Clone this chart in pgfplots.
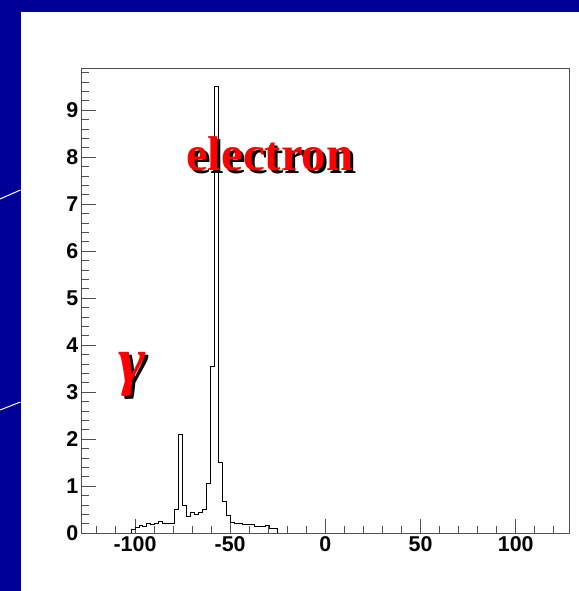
\documentclass[border=0pt]{standalone}
\usepackage{pgfplots}
\pgfplotsset{compat=1.18}
\usepackage{fontspec}
\setmainfont{Liberation Serif}
\setsansfont{Liberation Sans}
\definecolor{bgblue}{RGB}{0,0,153}
\definecolor{framegray}{RGB}{80,80,80}
\begin{document}
\begin{tikzpicture}[x=1bp,y=1bp]
\useasboundingbox (0,0) rectangle (579,591);
\fill[bgblue] (0,0) rectangle (579,591);
\fill[white] (20.5,0) rectangle (579,579);
\draw[white, line width=1bp] (0,392) -- (20.5,401);
\draw[white, line width=1bp] (0,181) -- (20.5,189);
\begin{axis}[
  at={(81.7bp,57.7bp)}, anchor=south west,
  scale only axis, width=487.3bp, height=464.3bp,
  xmin=-128, xmax=128, ymin=0, ymax=9.88,
  axis line style={framegray, line width=1bp},
  tick style={framegray, line width=1bp},
  major tick length=14bp, minor tick length=7bp,
  xtick pos=bottom, ytick pos=left, tick align=inside,
  xtick={-100,-50,0,50,100}, xticklabels={-100,-50,0,50,100},
  minor xtick={-120,-110,-90,-80,-70,-60,-40,-30,-20,-10,10,20,30,40,60,70,80,90,110,120},
  ytick={0,1,2,3,4,5,6,7,8,9}, yticklabels={0,1,2,3,4,5,6,7,8,9},
  minor ytick={0.2,0.4,0.6,0.8,1.2,1.4,1.6,1.8,2.2,2.4,2.6,2.8,3.2,3.4,3.6,3.8,4.2,4.4,4.6,4.8,5.2,5.4,5.6,5.8,6.2,6.4,6.6,6.8,7.2,7.4,7.6,7.8,8.2,8.4,8.6,8.8,9.2,9.4,9.6,9.8},
  ticklabel style={font=\sffamily\bfseries\fontsize{21.5}{21.5}\selectfont},
]
\addplot[const plot mark left, black, line width=0.9bp] coordinates {
(-102.083,0) (-102.083,0.08) (-100.000,0.12) (-97.917,0.16) (-95.833,0.15)
(-93.750,0.21) (-91.667,0.18) (-89.583,0.21) (-87.500,0.26) (-85.417,0.20)
(-83.333,0.21) (-81.250,0.22) (-79.167,0.50) (-77.083,2.10) (-75.000,0.60)
(-72.917,0.35) (-70.833,0.45) (-68.750,0.40) (-66.667,0.45) (-64.583,0.50)
(-62.500,1.06) (-60.417,3.54) (-58.333,9.50) (-56.250,1.50) (-54.167,0.67)
(-52.083,0.39) (-50.000,0.23) (-47.917,0.20) (-45.833,0.20) (-43.750,0.18)
(-41.667,0.18) (-39.583,0.18) (-37.500,0.14) (-35.417,0.14) (-33.333,0.14)
(-31.250,0.17) (-29.167,0.10) (-27.083,0.10) (-25.000,0)
};
\end{axis}
\node[anchor=base west, inner sep=0pt, text=black, font=\bfseries\fontsize{49}{49}\selectfont] at (189,417) {electron};
\node[anchor=base west, inner sep=0pt, text=red, font=\bfseries\fontsize{49}{49}\selectfont] at (186,420) {electron};
\node[anchor=north west, inner sep=0pt, text=black, font=\bfseries\itshape\fontsize{66}{66}\selectfont] at (121,236) {γ};
\node[anchor=north west, inner sep=0pt, text=red, font=\bfseries\itshape\fontsize{66}{66}\selectfont] at (118,239) {γ};
\end{tikzpicture}
\end{document}
